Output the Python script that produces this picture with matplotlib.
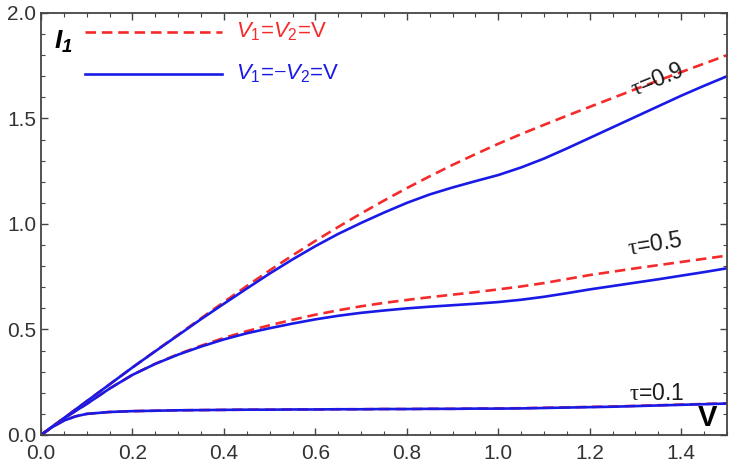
import matplotlib
matplotlib.use('Agg')
import matplotlib.pyplot as plt
import numpy as np
from matplotlib.ticker import MultipleLocator

plt.rcParams['font.family'] = ['Liberation Sans', 'DejaVu Sans']
plt.rcParams['mathtext.fontset'] = 'custom'
plt.rcParams['mathtext.rm'] = 'Liberation Serif'
plt.rcParams['mathtext.it'] = 'Liberation Sans:italic'
plt.rcParams['mathtext.sf'] = 'Liberation Sans'
plt.rcParams['mathtext.bf'] = 'Liberation Sans:italic:bold'

# voltage grid
V = [0.0, 0.025, 0.05, 0.075, 0.1, 0.15, 0.2, 0.25, 0.3, 0.35, 0.4, 0.45,
     0.5, 0.55, 0.6, 0.65, 0.7, 0.75, 0.8, 0.85, 0.9, 0.95, 1.0, 1.05,
     1.1, 1.15, 1.2, 1.25, 1.3, 1.35, 1.4, 1.45, 1.5]

# tau = 0.9
i09_same = [0.0, 0.04, 0.08, 0.12, 0.16, 0.24, 0.32, 0.398, 0.475, 0.553,
            0.63, 0.706, 0.78, 0.851, 0.92, 0.986, 1.05, 1.111, 1.17, 1.226,
            1.28, 1.331, 1.38, 1.426, 1.47, 1.513, 1.555, 1.597, 1.639, 1.68,
            1.72, 1.76, 1.80]
i09_opp = [0.0, 0.04, 0.08, 0.12, 0.16, 0.24, 0.32, 0.397, 0.473, 0.549,
           0.622, 0.694, 0.765, 0.832, 0.895, 0.953, 1.005, 1.054, 1.10, 1.14,
           1.173, 1.203, 1.232, 1.268, 1.31, 1.358, 1.408, 1.458, 1.508, 1.558,
           1.608, 1.655, 1.70]

# tau = 0.5
i05_same = [0.0, 0.04, 0.078, 0.113, 0.147, 0.22, 0.285, 0.338, 0.383, 0.423,
            0.46, 0.492, 0.52, 0.546, 0.57, 0.591, 0.61, 0.626, 0.64, 0.653,
            0.665, 0.677, 0.69, 0.704, 0.72, 0.739, 0.758, 0.774, 0.79, 0.805,
            0.82, 0.835, 0.85]
i05_opp = [0.0, 0.04, 0.078, 0.113, 0.147, 0.22, 0.285, 0.337, 0.381, 0.419,
           0.453, 0.482, 0.506, 0.528, 0.548, 0.565, 0.579, 0.59, 0.60, 0.608,
           0.615, 0.622, 0.63, 0.641, 0.655, 0.672, 0.69, 0.706, 0.722, 0.738,
           0.755, 0.772, 0.79]

# tau = 0.1
i01_same = [0.0, 0.038, 0.068, 0.088, 0.10, 0.109, 0.113, 0.115, 0.117, 0.118,
            0.119, 0.12, 0.12, 0.121, 0.121, 0.122, 0.122, 0.123, 0.123, 0.124,
            0.124, 0.125, 0.126, 0.127, 0.129, 0.131, 0.133, 0.135, 0.138,
            0.141, 0.144, 0.147, 0.15]
i01_opp = [0.0, 0.038, 0.068, 0.088, 0.10, 0.109, 0.113, 0.115, 0.117, 0.118,
           0.119, 0.12, 0.12, 0.121, 0.121, 0.122, 0.122, 0.123, 0.123, 0.124,
           0.124, 0.125, 0.125, 0.126, 0.128, 0.130, 0.132, 0.134, 0.137,
           0.140, 0.143, 0.146, 0.149]

red = '#f52a2a'
blue = '#1a1ae6'

fig = plt.figure(figsize=(7.36, 4.74), dpi=100)
ax = fig.add_axes([0.0557, 0.0823, 0.932, 0.8903])

for same, opp in [(i09_same, i09_opp), (i05_same, i05_opp), (i01_same, i01_opp)]:
    ax.plot(V, same, color=red, lw=1.9, dashes=(4, 2.2))
    ax.plot(V, opp, color=blue, lw=1.9, solid_capstyle='round')

ax.set_xlim(0, 1.5)
ax.set_ylim(0, 2.0)
ax.xaxis.set_major_locator(MultipleLocator(0.2))
ax.xaxis.set_minor_locator(MultipleLocator(0.05))
ax.yaxis.set_major_locator(MultipleLocator(0.5))
ax.yaxis.set_minor_locator(MultipleLocator(0.1))
ax.xaxis.set_major_formatter(lambda v, p: f'{v:.1f}')
ax.yaxis.set_major_formatter(lambda v, p: f'{v:.1f}')
ax.tick_params(which='both', direction='in', top=True, right=True,
               color='#444444', labelsize=15, labelcolor='#333333')
ax.tick_params(which='major', length=5, width=1)
ax.tick_params(which='minor', length=3, width=0.8)
ax.tick_params(axis='x', which='major', pad=6.5)
for s in ax.spines.values():
    s.set_color('#444444')
    s.set_linewidth(1.3)

# curve labels
ax.text(1.347, 1.685, r'$\mathrm{\tau}$=0.9', fontsize=16.5, rotation=22,
        ha='center', va='center', color='#1a1a1a')
ax.text(1.343, 0.905, r'$\mathrm{\tau}$=0.5', fontsize=16.5, rotation=9,
        ha='center', va='center', color='#1a1a1a')
ax.text(1.347, 0.195, r'$\mathrm{\tau}$=0.1', fontsize=16.5,
        ha='center', va='center', color='#1a1a1a')

# axis labels inside the frame
ax.text(0.032, 0.932, r'$\mathbf{I_1}$', transform=ax.transAxes,
        fontsize=19, ha='center', va='center')
ax.text(0.972, 0.04, 'V', transform=ax.transAxes, fontsize=21,
        fontweight='bold', ha='center', va='center')

# hand-made legend
ax.plot([0.064, 0.264], [0.955, 0.955], transform=ax.transAxes,
        color=red, lw=1.9, dashes=(4, 2.2))
ax.plot([0.064, 0.264], [0.855, 0.855], transform=ax.transAxes,
        color=blue, lw=1.9)
ax.text(0.285, 0.955, r'$V_\mathsf{1}$=$V_\mathsf{2}$=V', transform=ax.transAxes,
        fontsize=16, color=red, va='center', ha='left')
ax.text(0.285, 0.855, r'$V_\mathsf{1}$=$-V_\mathsf{2}$=V', transform=ax.transAxes,
        fontsize=16, color=blue, va='center', ha='left')

fig.savefig('out.png', dpi=100)
